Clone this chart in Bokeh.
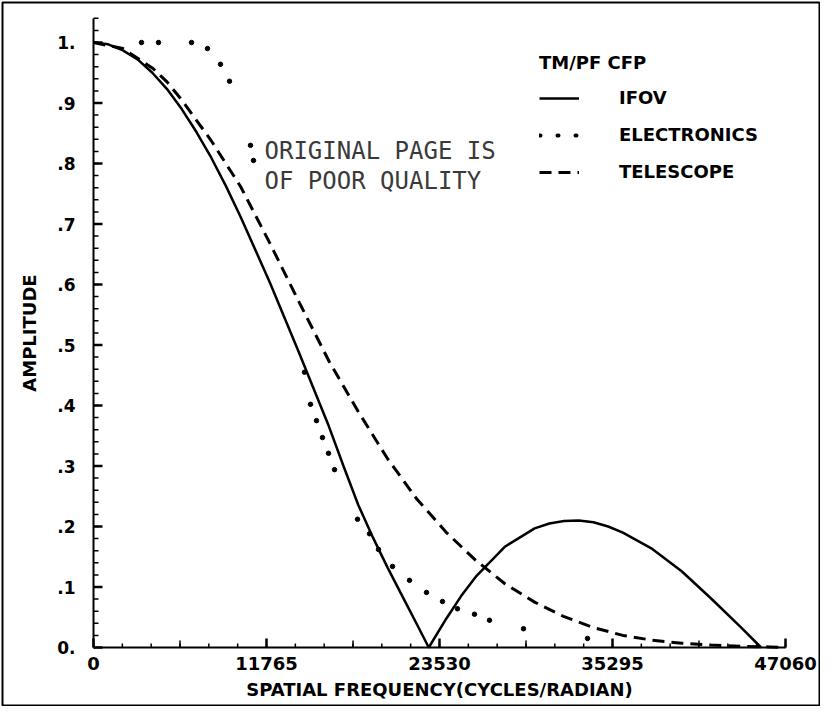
import numpy as np
from bokeh.plotting import figure
from bokeh.models import (LinearAxis, FixedTicker, Range1d, Legend, LegendItem,
                          Label)
from bokeh.embed import file_html
from bokeh.resources import INLINE

# ---------------- data ----------------
ifov_freq = [0, 1000, 2000, 3000, 4000, 5000, 6000, 7000, 8000, 9000, 10000,
             12000, 14000, 16000, 17000, 18000, 19000, 20000, 21000, 22000,
             22800, 24000, 25000, 26000, 28000, 30000, 31000, 32000, 33000,
             34000, 35000, 36000, 38000, 40000, 42000, 44000, 45400]
ifov_amp = [1.0, 0.997, 0.987, 0.972, 0.950, 0.923, 0.890, 0.852, 0.810, 0.763,
            0.712, 0.603, 0.486, 0.366, 0.300, 0.236, 0.182, 0.132, 0.085,
            0.038, 0.0, 0.048, 0.085, 0.117, 0.167, 0.197, 0.205, 0.209, 0.210,
            0.207, 0.200, 0.190, 0.163, 0.126, 0.081, 0.034, 0.0]

elec_freq = [3264, 4420, 6664, 7752, 8636, 9248, 10676, 10880, 14349, 14757,
             15165, 15573, 15981, 16390, 17954, 18770, 19382, 20334, 21490,
             22646, 23734, 24754, 25910, 26930, 29243, 33595]
elec_amp = [1.0, 1.0, 1.0, 0.990, 0.964, 0.936, 0.830, 0.805, 0.455, 0.402,
            0.375, 0.347, 0.321, 0.294, 0.212, 0.188, 0.162, 0.134, 0.111,
            0.091, 0.076, 0.064, 0.055, 0.045, 0.031, 0.015]

tele_freq = [0, 2000, 4000, 5000, 6000, 8000, 10000, 12000, 14000, 16000, 18000,
             20000, 22000, 24000, 26000, 28000, 30000, 32000, 34000, 36000,
             38000, 40000, 42000, 44000, 46000, 47060]
tele_amp = [1.0, 0.99, 0.958, 0.935, 0.905, 0.838, 0.762, 0.668, 0.57, 0.474,
            0.39, 0.312, 0.245, 0.19, 0.144, 0.105, 0.075, 0.051, 0.033, 0.02,
            0.012, 0.007, 0.004, 0.002, 0.001, 0.0]

x_tick_values = [0, 11765, 23530, 35295, 47060]
x_tick_labels = ["0", "11765", "23530", "35295", "47060"]
y_tick_values = [0.0, 0.1, 0.2, 0.3, 0.4, 0.5, 0.6, 0.7, 0.8, 0.9, 1.0]
y_tick_labels = ["0.", ".1", ".2", ".3", ".4", ".5", ".6", ".7", ".8", ".9", "1."]

legend_title = "TM/PF CFP"
series_names = ["IFOV", "ELECTRONICS", "TELESCOPE"]
stamp_lines = ["ORIGINAL PAGE IS", "OF POOR QUALITY"]

# ---------------- layout geometry (page pixels) ----------------
W, H = 820, 706
MB_L, MB_R, MB_T, MB_B = 2, 1, 2, 0
FRAME_L = 8 + MB_L
FRAME_R = 8 + W - MB_R
FRAME_T = 8 + MB_T
FRAME_B = 8 + H - MB_B
X0_PX, X1_PX = 101, 793      # f = 0 and f = 47060
Y0_PX, Y1_PX = 655, 50       # amp = 0 and amp = 1
XMAX = x_tick_values[-1]
sx = XMAX / (X1_PX - X0_PX)  # frequency units per pixel
sy = 1.0 / (Y0_PX - Y1_PX)   # amplitude units per pixel
x_start = -(X0_PX - FRAME_L) * sx
x_end = XMAX + (FRAME_R - X1_PX) * sx
y_start = -(FRAME_B - Y0_PX) * sy
y_end = 1.0 + (Y1_PX - FRAME_T) * sy

FONT = "DejaVu Sans"
YTOP = 1.04

p = figure(width=W, height=H, output_backend="svg", toolbar_location=None,
           x_range=Range1d(x_start, x_end), y_range=Range1d(y_start, y_end),
           x_axis_type=None, y_axis_type=None,
           min_border_left=MB_L, min_border_right=MB_R,
           min_border_top=MB_T, min_border_bottom=MB_B)
p.outline_line_color = "black"
p.outline_line_width = 2
p.background_fill_color = "white"
p.border_fill_color = "white"

# ---------------- axes (line, labels, titles) ----------------
def style_labels(ax, size):
    ax.major_tick_in = 0
    ax.major_tick_out = 0
    ax.minor_tick_in = 0
    ax.minor_tick_out = 0
    ax.axis_line_color = "black"
    ax.axis_line_width = 2
    ax.major_label_text_font = FONT
    ax.major_label_text_font_style = "bold"
    ax.major_label_text_color = "black"
    ax.major_label_text_font_size = size
    ax.axis_label_text_font = FONT
    ax.axis_label_text_font_style = "bold"
    ax.axis_label_text_color = "black"
    ax.axis_label_text_font_size = "18px"


yaxis = LinearAxis(fixed_location=0, bounds=(0, YTOP),
                   ticker=FixedTicker(ticks=y_tick_values, minor_ticks=[]),
                   major_label_overrides=dict(zip(y_tick_values, y_tick_labels)),
                   axis_label="AMPLITUDE")
style_labels(yaxis, "17px")
yaxis.major_label_standoff = 18
yaxis.axis_label_standoff = 14
p.add_layout(yaxis, "left")

xaxis = LinearAxis(fixed_location=0, bounds=(0, XMAX),
                   ticker=FixedTicker(ticks=x_tick_values, minor_ticks=[]),
                   major_label_overrides=dict(zip(x_tick_values, x_tick_labels)),
                   axis_label="SPATIAL FREQUENCY(CYCLES/RADIAN)")
style_labels(xaxis, "18px")
xaxis.major_label_standoff = 9
xaxis.axis_label_standoff = 6
p.add_layout(xaxis, "below")

# ---------------- inward tick marks at the axes' tick values ----------------
y_minor = [round(float(v), 2) for v in np.arange(0.02, YTOP + 0.0001, 0.02)]
x_step = XMAX / 24.0
x_minor = [float(i * x_step) for i in range(1, 25)]
x_half = [v + XMAX / 8.0 for v in x_tick_values[:-1]]

for xs, length_px, width in [(x_minor, 4, 1.5), (x_half, 7, 1.5),
                             (x_tick_values, 9, 2.5)]:
    p.segment(x0=xs, y0=[0.0] * len(xs), x1=xs,
              y1=[length_px * sy] * len(xs),
              line_color="black", line_width=width)
for ys, length_px, width in [(y_minor, 5, 1.5), (y_tick_values, 9, 2.5)]:
    p.segment(x0=[0.0] * len(ys), y0=ys, x1=[length_px * sx] * len(ys),
              y1=ys, line_color="black", line_width=width)

# ---------------- series ----------------
r_ifov = p.line(ifov_freq, ifov_amp, line_color="black", line_width=2.5)
r_tele = p.line(tele_freq, tele_amp, line_color="black", line_width=3,
                line_dash="12 7")
r_elec = p.scatter(elec_freq, elec_amp, size=4.5, marker="circle",
                   fill_color="black", line_color="black")
# one-point line: draws nothing in the plot, only gives the dotted legend key
r_elec_key = p.line(elec_freq[:1], elec_amp[:1], line_color="black", line_width=4,
                    line_dash="1 17", line_cap="round")

legend = Legend(items=[LegendItem(label=series_names[0], renderers=[r_ifov]),
                       LegendItem(label=series_names[1], renderers=[r_elec_key]),
                       LegendItem(label=series_names[2], renderers=[r_tele])],
                title=legend_title, location=(537, 524),
                glyph_width=40, glyph_height=20, label_height=20,
                label_standoff=40, spacing=16, padding=0, margin=0,
                border_line_alpha=0, background_fill_alpha=0,
                label_text_font=FONT, label_text_font_style="bold",
                label_text_font_size="18px", label_text_color="black",
                title_text_font=FONT, title_text_font_style="bold",
                title_text_font_size="18px", title_text_color="black",
                title_standoff=14)
p.add_layout(legend)

# ---------------- scanned stamp ----------------
stamp_x = (272 - X0_PX) * sx
for txt, ypx in zip(stamp_lines, (158, 188)):
    p.add_layout(Label(x=stamp_x, y=(Y0_PX - ypx) * sy, text=txt,
                       text_font="DejaVu Sans Mono", text_font_size="24px",
                       text_color="#3a3a3a", text_baseline="middle"))

open("out.html", "w").write(file_html(p, INLINE))
